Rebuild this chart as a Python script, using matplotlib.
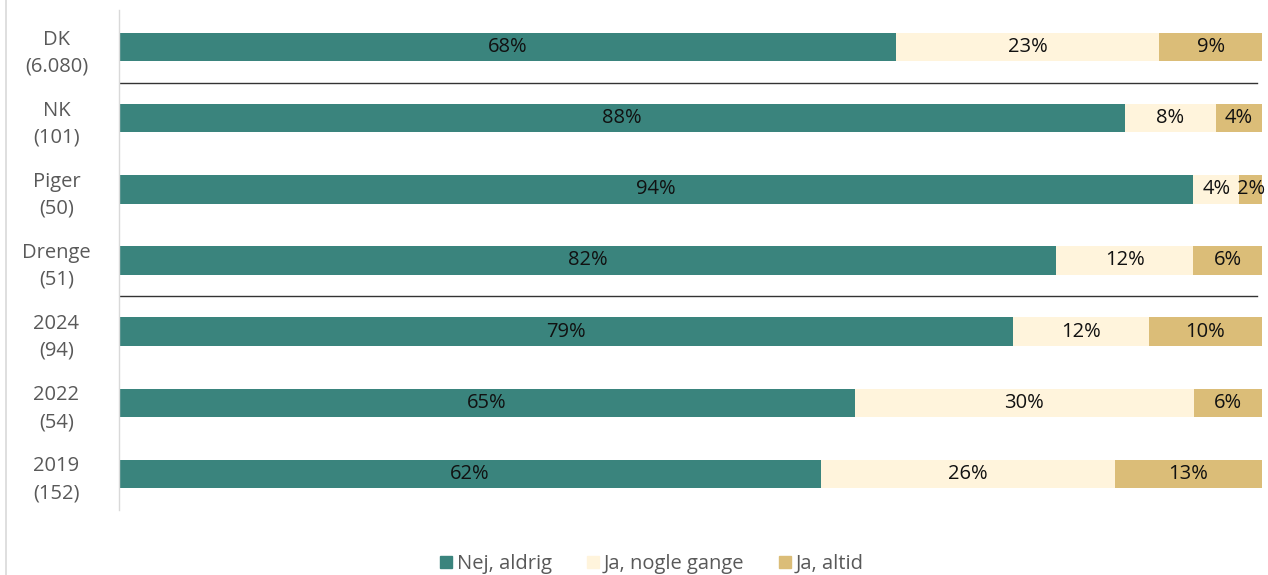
import matplotlib.pyplot as plt
from matplotlib.lines import Line2D

plt.rcParams['font.family'] = ['Open Sans', 'DejaVu Sans']

groups = ["DK\n(6.080)", "NK\n(101)", "Piger\n(50)", "Drenge\n(51)", "2024\n(94)", "2022\n(54)", "2019\n(152)"]
nej = [68, 88, 94, 82, 79, 65, 62]
nogle = [23, 8, 4, 12, 12, 30, 26]
altid = [9, 4, 2, 6, 10, 6, 13]
series_names = ["Nej, aldrig", "Ja, nogle gange", "Ja, altid"]
colors = ["#3a847d", "#fff4dc", "#dbbd78"]

fig = plt.figure(figsize=(12.68, 5.75), dpi=100)
ax = fig.add_axes([119 / 1268, 1 - 510 / 575, (1262 - 119) / 1268, 500 / 575])

y = list(range(len(groups)))
for i in y:
    vals = [nej[i], nogle[i], altid[i]]
    tot = sum(vals)
    left = 0
    for v, c in zip(vals, colors):
        w = v / tot * 100
        ax.barh(i, w, left=left, height=0.4, color=c, edgecolor="none")
        ax.text(left + w / 2, i, f"{v}%", ha="center", va="center", fontsize=14.5, color="#111111")
        left += w

ax.set_xlim(0, 100)
ax.set_ylim(6.506, -0.52)
ax.set_yticks(y)
ax.set_yticklabels(groups, fontsize=14.5, color="#595959", linespacing=1.45)
ax.tick_params(axis="y", length=0, pad=45)
for lab in ax.get_yticklabels():
    lab.set_horizontalalignment("center")
ax.set_xticks([])
for s in ["top", "right", "bottom"]:
    ax.spines[s].set_visible(False)
ax.spines["left"].set_color("#d9d9d9")
ax.spines["left"].set_linewidth(1)

for yy in [0.5, 3.5]:
    ax.plot([0, 99.6], [yy, yy], color="#333333", lw=1.0)

fig.add_artist(Line2D([6 / 1268, 6 / 1268], [0, 1], color="#d9d9d9", lw=1.2))

handles = [plt.Rectangle((0, 0), 1, 1, color=c) for c in colors]
fig.legend(handles, series_names, loc="center", bbox_to_anchor=(652 / 1268, 1 - 564 / 575), ncol=3,
           frameon=False, fontsize=14.5, handlelength=0.6, handleheight=0.6, handletextpad=0.25,
           columnspacing=1.7, labelcolor="#595959")

fig.savefig("out.png", dpi=100)
